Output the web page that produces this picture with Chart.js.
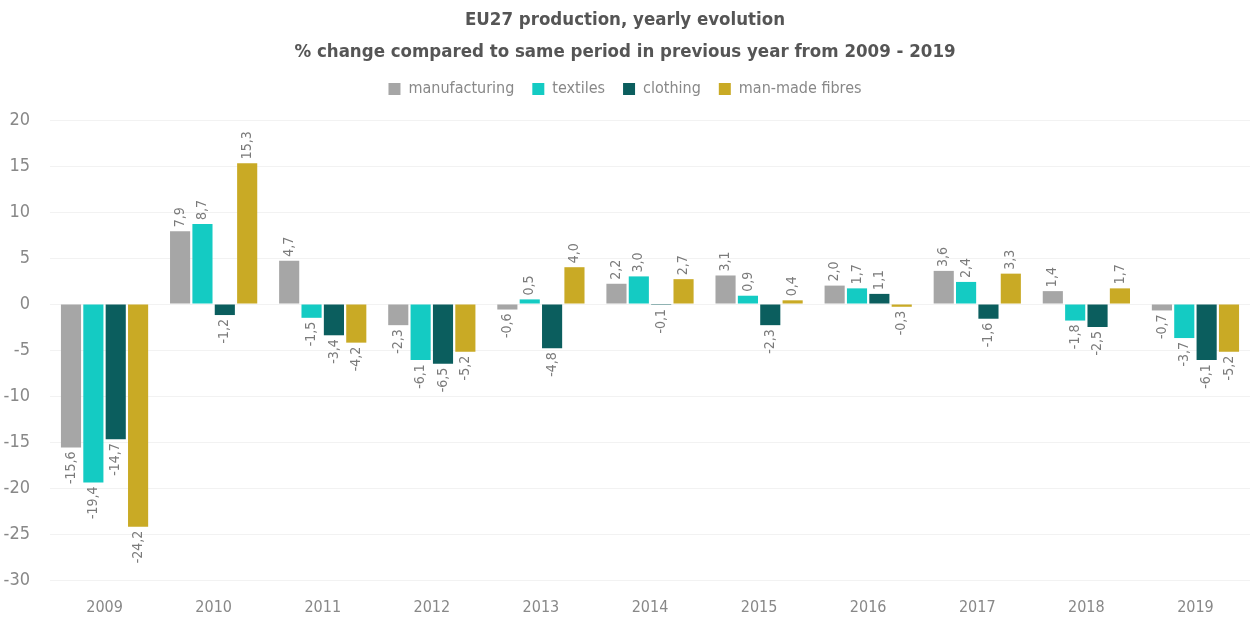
<!DOCTYPE html>
<html>
<head>
<meta charset="utf-8">
<script src="https://cdn.jsdelivr.net/npm/chart.js@4"></script>
<style>
  html, body { margin: 0; padding: 0; background: #ffffff; }
  #wrap { width: 1250px; height: 624px; position: relative; }
</style>
</head>
<body>
<div id="wrap"><canvas id="c"></canvas></div>
<script>
const years = ['2009','2010','2011','2012','2013','2014','2015','2016','2017','2018','2019'];
const manufacturing = [-15.6, 7.9, 4.7, -2.3, -0.6, 2.2, 3.1, 2.0, 3.6, 1.4, -0.7];
const textiles = [-19.4, 8.7, -1.5, -6.1, 0.5, 3.0, 0.9, 1.7, 2.4, -1.8, -3.7];
const clothing = [-14.7, -1.2, -3.4, -6.5, -4.8, -0.1, -2.3, 1.1, -1.6, -2.5, -6.1];
const manMadeFibres = [-24.2, 15.3, -4.2, -5.2, 4.0, 2.7, 0.4, -0.3, 3.3, 1.7, -5.2];
const seriesNames = ['manufacturing', 'textiles', 'clothing', 'man-made fibres'];
const titleLines = ['EU27 production, yearly evolution', '% change compared to same period in previous year from 2009 - 2019'];

const colors = ['#a6a6a6', '#14cbc3', '#0b5e5e', '#c9aa25'];
const FONT = "'Liberation Sans Narrow', 'DejaVu Sans Condensed', 'Open Sans', sans-serif";

const labelPlugin = {
  id: 'barLabels',
  afterDatasetsDraw(chart) {
    const ctx = chart.ctx;
    ctx.save();
    ctx.font = '14px ' + FONT;
    ctx.fillStyle = '#7a7a7a';
    ctx.textBaseline = 'middle';
    chart.data.datasets.forEach((ds, di) => {
      const meta = chart.getDatasetMeta(di);
      meta.data.forEach((bar, i) => {
        const v = ds.data[i];
        const txt = v.toFixed(1).replace('.', ',');
        ctx.save();
        if (v >= 0) {
          ctx.translate(bar.x, bar.y - 4);
          ctx.rotate(-Math.PI / 2);
          ctx.textAlign = 'left';
        } else {
          ctx.translate(bar.x, bar.y + 4);
          ctx.rotate(-Math.PI / 2);
          ctx.textAlign = 'right';
        }
        ctx.fillText(txt, 0, 0);
        ctx.restore();
      });
    });
    ctx.restore();
  }
};

const whiteBg = {
  id: 'whiteBg',
  beforeDraw(chart) {
    const ctx = chart.ctx;
    ctx.save();
    ctx.fillStyle = '#ffffff';
    ctx.fillRect(0, 0, chart.width, chart.height);
    ctx.restore();
  }
};

const legendSpace = {
  id: 'legendSpace',
  beforeInit(chart) {
    const origFit = chart.legend.fit;
    chart.legend.fit = function () {
      origFit.bind(chart.legend)();
      this.height += 13;
    };
  }
};

const allSeries = [manufacturing, textiles, clothing, manMadeFibres];

new Chart(document.getElementById('c'), {
  type: 'bar',
  data: {
    labels: years,
    datasets: allSeries.map((d, i) => ({
      label: seriesNames[i],
      data: d,
      backgroundColor: colors[i],
      borderWidth: 0,
      categoryPercentage: 0.82,
      barPercentage: 0.9
    }))
  },
  options: {
    responsive: true,
    maintainAspectRatio: false,
    animation: false,
    layout: { padding: { left: 0, right: 0, top: 0, bottom: 10 } },
    plugins: {
      title: {
        display: true,
        text: titleLines,
        color: '#555555',
        font: { family: FONT, size: 18.5, weight: 'bold', lineHeight: 1.73 },
        padding: { top: 4, bottom: -5 }
      },
      legend: {
        display: true,
        labels: {
          color: '#888888',
          font: { family: FONT, size: 16 },
          boxWidth: 12,
          boxHeight: 12,
          padding: 18
        }
      },
      tooltip: { enabled: false }
    },
    scales: {
      x: {
        afterFit(scale) { scale.height = 34; },
        grid: { display: false },
        border: { display: false },
        ticks: { color: '#888888', font: { family: FONT, size: 16 }, padding: 10 }
      },
      y: {
        min: -30,
        max: 20,
        afterFit(scale) { scale.width = 50; },
        grid: { color: '#f2f2f2', drawTicks: false },
        border: { display: false },
        ticks: {
          stepSize: 5,
          color: '#888888',
          font: { family: FONT, size: 18 },
          crossAlign: 'near',
          padding: 20
        }
      }
    }
  },
  plugins: [whiteBg, legendSpace, labelPlugin]
});
</script>
</body>
</html>
